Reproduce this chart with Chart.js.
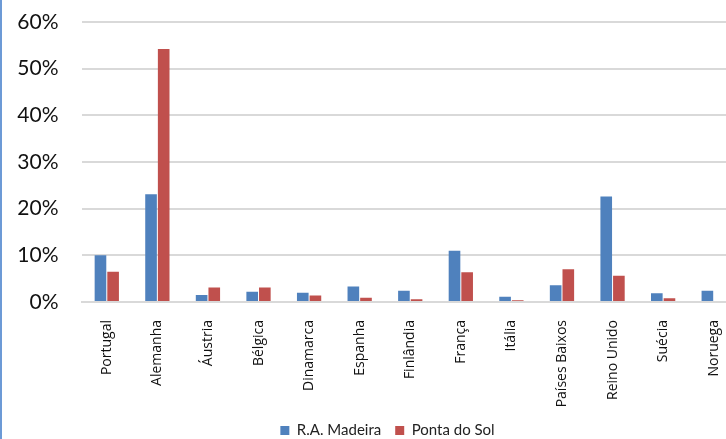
<!DOCTYPE html>
<html lang="pt">
<head>
<meta charset="utf-8">
<title>R.A. Madeira vs Ponta do Sol</title>
<script src="https://cdn.jsdelivr.net/npm/chart.js@4.4.1/dist/chart.umd.min.js"></script>
<style>
	html, body {
		margin: 0;
		padding: 0;
		background: #ffffff;
		overflow: hidden;
		width: 726px;
		height: 439px;
	}
	#wrap {
		position: relative;
		width: 776px;
		height: 439px;
	}
	#edge {
		position: absolute;
		left: 0;
		top: 0;
		width: 2px;
		height: 439px;
		background: #6c9ad6;
	}
</style>
</head>
<body>
<div id="wrap">
	<canvas id="chart01" width="776" height="439"></canvas>
	<div id="edge"></div>
</div>
<script>
const countries = [
	"Portugal",
	"Alemanha",
	"Áustria",
	"Bélgica",
	"Dinamarca",
	"Espanha",
	"Finlândia",
	"França",
	"Itália",
	"Países Baixos",
	"Reino Unido",
	"Suécia",
	"Noruega",
];

// share of guests by country of origin, in %
const madeira = [10.0, 23.1, 1.5, 2.2, 2.0, 3.3, 2.4, 11.0, 1.1, 3.6, 22.6, 1.9, 2.4];
const pontaDoSol = [6.5, 54.2, 3.1, 3.1, 1.4, 0.9, 0.6, 6.4, 0.4, 7.0, 5.6, 0.8, 0.2];

const yTicks = [0, 10, 20, 30, 40, 50, 60];

const gridColor = "#d9d9d9";

// legend sits centred on the whole chart, not only the plot
const legendShift = {
	id: "legendShift",
	afterLayout(chart) {
		chart.legend.left += 18;
		chart.legend.right += 18;
	},
};

const data = {
	labels: countries,
	datasets: [
		{
			label: "R.A. Madeira",
			data: madeira,
			backgroundColor: "#4f81bd",
			categoryPercentage: 0.5,
			barPercentage: 0.92,
		},
		{
			label: "Ponta do Sol",
			data: pontaDoSol,
			backgroundColor: "#c0504d",
			categoryPercentage: 0.5,
			barPercentage: 0.92,
		},
	],
};

const options = {
	responsive: false,
	animation: false,
	layout: {
		padding: { top: 22, right: 37, bottom: -9, left: 0 },
	},
	plugins: {
		legend: {
			display: true,
			position: "bottom",
			labels: {
				boxWidth: 9,
				boxHeight: 9,
				padding: 14,
				color: "#222222",
				font: { family: "Lato", size: 15 },
			},
		},
		tooltip: { enabled: false },
	},
	scales: {
		x: {
			grid: { display: false },
			border: { display: true, color: gridColor, width: 2 },
			ticks: {
				minRotation: 90,
				maxRotation: 90,
				autoSkip: false,
				padding: 10,
				color: "#111111",
				font: { family: "Open Sans", size: 14 },
			},
			afterFit(scale) {
				scale.height = 107;
			},
		},
		y: {
			min: 0,
			max: 60,
			afterBuildTicks(scale) {
				scale.ticks = yTicks.map((v) => ({ value: v }));
			},
			grid: { color: gridColor, lineWidth: 2, drawTicks: false },
			border: { display: false },
			ticks: {
				padding: 23,
				color: "#111111",
				font: { family: "Lato", size: 21 },
				callback: (v) => v + "%",
			},
			afterFit(scale) {
				scale.width = 81.5;
				// tick padding only pushes labels sideways here
				scale.paddingTop = 0;
				scale.paddingBottom = 0;
			},
		},
	},
};

new Chart(document.querySelector("#chart01"), {
	type: "bar",
	data,
	options,
	plugins: [legendShift],
});
</script>
</body>
</html>
